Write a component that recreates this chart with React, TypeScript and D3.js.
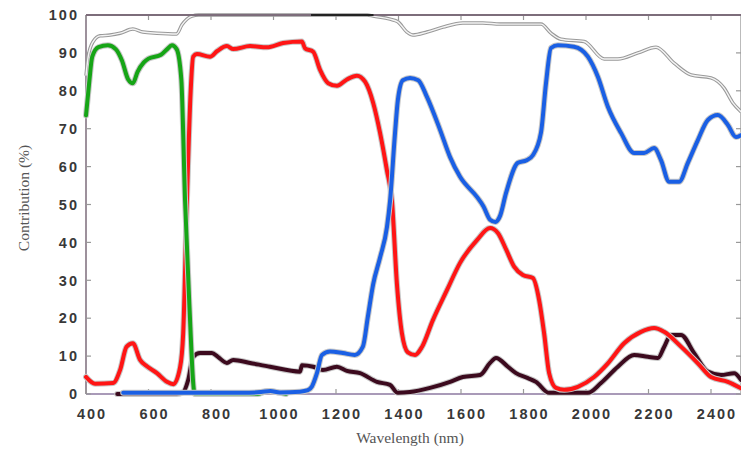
import React from "react";
import * as d3 from "d3";

const xTicks = [400, 600, 800, 1000, 1200, 1400, 1600, 1800, 2000, 2200, 2400];
const yTicks = [0, 10, 20, 30, 40, 50, 60, 70, 80, 90, 100];

const greenSeries: [number, number][] = [
  [400, 73.5], [410, 82], [420, 89], [440, 91.5], [470, 92], [495, 91], [515, 88], [535, 83],
  [550, 82], [565, 85], [585, 87.5], [600, 88.5], [640, 89.5], [660, 91], [675, 92], [690, 91],
  [705, 83], [717, 51], [730, 25], [748, 0], [800, 0], [950, 0], [980, 0.8], [1010, 0.5], [1040, 0],
];

const blueSeries: [number, number][] = [
  [519, 0.3], [900, 0.3], [960, 0.5], [990, 0.8], [1020, 0.4], [1085, 0.6], [1110, 1], [1123, 2],
  [1139, 5.5], [1155, 10.3], [1181, 11.2], [1222, 10.8], [1260, 10.3], [1286, 12.5], [1302, 20.4],
  [1319, 29], [1341, 36], [1363, 44], [1373, 51], [1389, 69], [1398, 77.6], [1414, 82.8],
  [1437, 83.4], [1463, 82.8], [1491, 78.4], [1533, 69.7], [1565, 62.5], [1597, 57.3], [1651, 52],
  [1672, 49.5], [1693, 46], [1710, 45.4], [1725, 47], [1744, 53], [1782, 61], [1810, 61.7],
  [1830, 63], [1856, 69], [1872, 82], [1888, 91.3], [1910, 92], [1962, 91.6], [2006, 89],
  [2038, 83.7], [2070, 75.8], [2112, 68.9], [2154, 63.6], [2186, 63.6], [2218, 64.9], [2240, 61.7],
  [2266, 56], [2298, 56], [2326, 61], [2358, 67], [2390, 72.3], [2422, 73.6], [2454, 71],
  [2480, 67.8], [2496, 68.3],
];

const redSeries: [number, number][] = [
  [400, 4.5], [429, 2.7], [487, 2.9], [509, 6.3], [530, 12.5], [550, 13.4], [573, 9], [595, 7.3],
  [627, 5.5], [659, 3.2], [680, 2.6], [701, 7], [711, 16], [723, 51], [735, 80], [743, 89],
  [755, 89.7], [797, 89], [820, 90.5], [851, 91.8], [871, 91], [925, 91.8], [979, 91.5],
  [1031, 92.6], [1091, 93], [1101, 91.2], [1127, 90.3], [1149, 85.5], [1175, 82], [1203, 81.3],
  [1235, 83], [1267, 84], [1293, 82.4], [1319, 76.8], [1341, 68.9], [1363, 59], [1379, 51],
  [1395, 29], [1411, 16], [1430, 11], [1453, 10.3], [1475, 12.4], [1510, 19.5], [1555, 27.4],
  [1597, 34.6], [1651, 40.6], [1693, 43.8], [1718, 42.5], [1745, 38], [1770, 33.6], [1798, 31.4],
  [1830, 30.6], [1850, 24.8], [1866, 16], [1882, 5.5], [1904, 1.6], [1930, 1.1], [1974, 1.9],
  [2026, 4.5], [2070, 8.1], [2122, 13.4], [2176, 16.4], [2218, 17.4], [2250, 16.4], [2304, 12.5],
  [2358, 8.1], [2400, 4.5], [2454, 3.2], [2496, 1.5],
];

const maroonSeries: [number, number][] = [
  [500, 0], [690, 0], [711, 0.5], [727, 3.7], [743, 9.8], [765, 10.8], [803, 10.8], [822, 9.8],
  [851, 8.2], [871, 9], [925, 8.2], [989, 7.2], [1085, 5.9], [1091, 7.6], [1127, 7.2], [1158, 6.3],
  [1203, 7.2], [1235, 6.1], [1277, 5.5], [1331, 3.2], [1373, 2.4], [1398, 0.3], [1437, 0.5],
  [1501, 1.6], [1565, 3.2], [1606, 4.5], [1661, 5], [1693, 8.2], [1712, 9.5], [1750, 7.2],
  [1776, 5.5], [1814, 4.2], [1840, 3.2], [1882, 0.3], [2006, 0.3], [2048, 2.9], [2102, 7.2],
  [2154, 10.3], [2198, 9.8], [2230, 9.5], [2250, 12.4], [2272, 15.6], [2304, 15.6], [2346, 10.8],
  [2390, 5.9], [2432, 5], [2474, 5.5], [2496, 3.7],
];

const totalSeries: [number, number][] = [
  [400, 84], [407, 89], [423, 93], [445, 94.5], [477, 94.7], [509, 95.2], [550, 96.3], [582, 95.5],
  [627, 95.2], [690, 95], [707, 97.4], [739, 99.7], [760, 100], [1300, 100], [1319, 99.7],
  [1373, 98.9], [1398, 98.2], [1427, 95.5], [1446, 94.7], [1491, 95.5], [1542, 96.8], [1606, 97.9],
  [1670, 97.9], [1725, 97.6], [1856, 97.6], [1888, 95.2], [1920, 93.6], [1994, 93], [2058, 88.4],
  [2102, 88.4], [2166, 90], [2224, 91.5], [2282, 87.3], [2336, 84.2], [2400, 83.4], [2442, 80.7],
  [2470, 76.8], [2496, 74.5],
];

const topDarkSeries: [number, number][] = [[1120, 100], [1320, 100]];

const W = 741;
const H = 452;
const left = 86;
const right = 741;
const top = 15;
const bottom = 394;

export default function App() {
  const x = d3.scaleLinear().domain([400, 2496]).range([left, right]);
  const y = d3.scaleLinear().domain([0, 100]).range([bottom, top]);
  const line = d3
    .line<[number, number]>()
    .x((d) => x(d[0]))
    .y((d) => y(d[1]))
    .curve(d3.curveMonotoneX);

  const axisColor = "#7d6d7b";
  const labelFont = "'Liberation Sans', Arial, sans-serif";

  const colored = [
    { data: maroonSeries, color: "#3c0a1e" },
    { data: redSeries, color: "#ff1515" },
    { data: greenSeries, color: "#16a516" },
    { data: blueSeries, color: "#1a5fe4" },
  ];

  return (
    <svg
      width={W}
      height={H}
      style={{ position: "absolute", left: 0, top: 0, background: "#fff" }}
    >
      <defs>
        <clipPath id="plot">
          <rect x={left - 3} y={top - 3} width={right - left + 6} height={bottom - top + 6} />
        </clipPath>
      </defs>

      {/* axes frame */}
      <line x1={left} x2={right} y1={bottom} y2={bottom} stroke="#8c78a0" strokeWidth={1.5} />
      <line x1={left} x2={left} y1={top} y2={bottom} stroke={axisColor} strokeWidth={1.5} />
      <line x1={right - 0.5} x2={right - 0.5} y1={top} y2={bottom} stroke="#bbb" strokeWidth={1} />

      {/* ticks */}
      {yTicks.map((t) => (
        <g key={"yt" + t}>
          <line x1={left} x2={left + 5} y1={y(t)} y2={y(t)} stroke="#999" strokeWidth={1.2} />
          <line x1={right - 5} x2={right} y1={y(t)} y2={y(t)} stroke="#999" strokeWidth={1.2} />
          <text
            x={left - 7}
            y={y(t)}
            dy="0.36em"
            textAnchor="end"
            fontFamily={labelFont}
            fontWeight="bold"
            fontSize={14.5}
            letterSpacing={2}
            fill="#383838"
          >
            {t}
          </text>
        </g>
      ))}
      {xTicks.map((t) => (
        <g key={"xt" + t}>
          <line x1={x(t)} x2={x(t)} y1={bottom} y2={bottom - 5} stroke="#999" strokeWidth={1.2} />
          <line x1={x(t)} x2={x(t)} y1={top} y2={top + 5} stroke="#999" strokeWidth={1.2} />
          <text
            x={x(t) + 6}
            y={bottom + 25}
            textAnchor="middle"
            fontFamily={labelFont}
            fontWeight="bold"
            fontSize={14.5}
            letterSpacing={2}
            fill="#383838"
          >
            {t}
          </text>
        </g>
      ))}

      <g clipPath="url(#plot)">
        {/* total line: light double line */}
        <path d={line(totalSeries) || ""} fill="none" stroke="#999" strokeWidth={3.5} />
        <path d={line(totalSeries) || ""} fill="none" stroke="#f4f4f4" strokeWidth={1.4} />

        {colored.map((s, i) => (
          <g key={"s" + i}>
            <path
              d={line(s.data) || ""}
              fill="none"
              stroke="#c8c8c8"
              strokeWidth={6}
              strokeLinejoin="round"
              strokeLinecap="round"
            />
            <path
              d={line(s.data) || ""}
              fill="none"
              stroke={s.color}
              strokeWidth={4}
              strokeLinejoin="round"
              strokeLinecap="round"
            />
          </g>
        ))}
      </g>

      {/* top border drawn over */}
      <line x1={left} x2={right} y1={top} y2={top} stroke={axisColor} strokeWidth={2} />
      <path d={line(topDarkSeries) || ""} fill="none" stroke="#222" strokeWidth={2} />

      {/* axis titles */}
      <text
        transform={`translate(29, 198) rotate(-90)`}
        textAnchor="middle"
        fontFamily="'Liberation Serif', 'Times New Roman', serif"
        fontSize={15.5}
        fill="#555"
      >
        Contribution (%)
      </text>
      <text
        x={410}
        y={443}
        textAnchor="middle"
        fontFamily="'Liberation Serif', 'Times New Roman', serif"
        fontSize={15.5}
        fill="#555"
      >
        Wavelength (nm)
      </text>
    </svg>
  );
}
